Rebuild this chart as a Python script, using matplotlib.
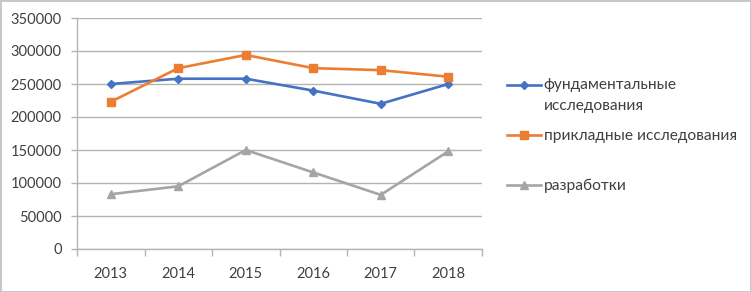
import numpy as np
import matplotlib.pyplot as plt

years = ['2013', '2014', '2015', '2016', '2017', '2018']
fundamental = [250000, 258000, 258000, 240000, 220000, 250000]
applied = [223000, 274000, 294000, 274000, 271000, 261000]
development = [83000, 95000, 150000, 116000, 82000, 148000]

labels = ['фундаментальные\nисследования', 'прикладные исследования', 'разработки']
colors = ['#4472C4', '#ED7D31', '#A5A5A5']
markers = ['D', 's', '^']
msizes = [4.5, 6, 5.5]

plt.rcParams['font.family'] = ['Lato', 'Noto Sans', 'DejaVu Sans']
text_color = '#404040'
grid_color = '#b4b4b4'

fig = plt.figure(figsize=(7.51, 2.92), dpi=100)
fig.patch.set_edgecolor('#c8c8c8')
fig.patch.set_linewidth(2)
ax = fig.add_axes([77 / 751, 1 - 249 / 292, 405 / 751, 231 / 292])

x = np.arange(len(years))
lines = []
for vals, c, m, ms in zip([fundamental, applied, development], colors, markers, msizes):
    ln, = ax.plot(x, vals, color=c, marker=m, markersize=ms, linewidth=1.9,
                  markeredgecolor=c, markerfacecolor=c, zorder=3)
    lines.append(ln)

ax.set_xlim(-0.5, len(years) - 0.5)
ax.set_ylim(0, 350000)
ax.set_yticks(np.arange(0, 350001, 50000))
ax.set_xticks(x)
ax.set_xticklabels(years)
ax.set_xticks(np.arange(-0.5, len(years)), minor=True)
ax.yaxis.grid(True, color=grid_color, linewidth=1)
ax.set_axisbelow(True)

for s in ['top', 'right']:
    ax.spines[s].set_visible(False)
for s in ['left', 'bottom']:
    ax.spines[s].set_color(grid_color)
    ax.spines[s].set_linewidth(1)

ax.tick_params(axis='y', length=4, width=1, color=grid_color, pad=7,
               labelsize=10.5, labelcolor=text_color)
ax.tick_params(axis='x', which='major', length=0, pad=13,
               labelsize=10.5, labelcolor=text_color)
ax.tick_params(axis='x', which='minor', length=5, width=1, color=grid_color)

# legend entries, one per series, placed like the original
leg_labels = ['\n' + labels[0], labels[1], labels[2]]
leg_y = [85, 136, 186]
for ln, lab, yy in zip(lines, leg_labels, leg_y):
    leg = fig.legend([ln], [lab], loc='center left',
                     bbox_to_anchor=(507 / 751, 1 - yy / 292),
                     bbox_transform=fig.transFigure, frameon=False,
                     borderpad=0, borderaxespad=0, handlelength=2.2,
                     handletextpad=0.15, fontsize=11.2, labelcolor=text_color)
    for t in leg.get_texts():
        t.set_linespacing(1.6)

fig.savefig('out.png', dpi=100)
